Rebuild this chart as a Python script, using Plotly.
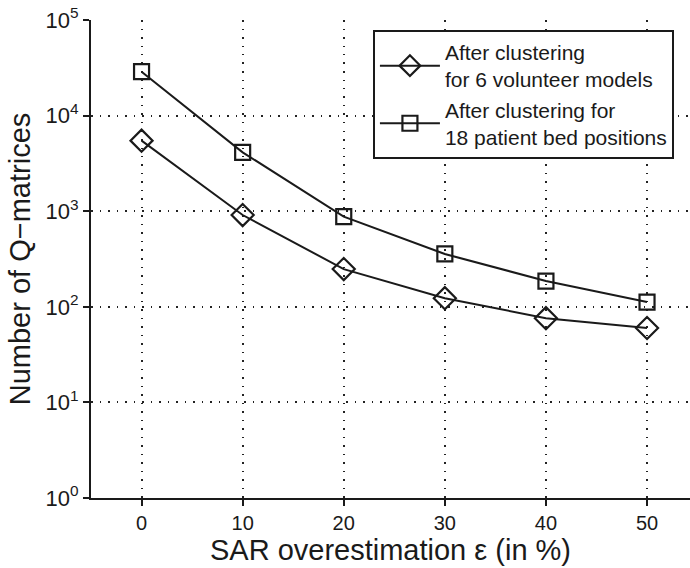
import plotly.graph_objects as go

eps = [0, 10, 20, 30, 40, 50]
volunteer = [5470, 912, 248, 123, 76, 60]
patient = [28800, 4130, 877, 357, 186, 112]
x_ticks = [0, 10, 20, 30, 40, 50]
y_tickvals = [1, 10, 100, 1000, 10000, 100000]
y_ticktext = ["10<sup>0</sup>", "10<sup>1</sup>", "10<sup>2</sup>", "10<sup>3</sup>", "10<sup>4</sup>", "10<sup>5</sup>"]

font = "Liberation Sans, Arial, sans-serif"
ink = "#1a1a1a"

fig = go.Figure()
fig.add_trace(go.Scatter(
    x=eps, y=volunteer, mode="lines+markers",
    name="After clustering<br>for 6 volunteer models",
    line=dict(color=ink, width=2),
    marker=dict(symbol="diamond-open", size=17, color=ink, line=dict(width=2.2)),
))
fig.add_trace(go.Scatter(
    x=eps, y=patient, mode="lines+markers",
    name="After clustering for<br>18 patient bed positions",
    line=dict(color=ink, width=2),
    marker=dict(symbol="square-open", size=15, color=ink, line=dict(width=2.2)),
))

fig.update_layout(
    width=690, height=568,
    margin=dict(l=91, r=0, t=20, b=70),
    paper_bgcolor="white", plot_bgcolor="white",
    font=dict(family=font, color=ink, size=20),
    showlegend=True,
    legend=dict(
        x=0.471, y=0.979, xanchor="left", yanchor="top",
        bordercolor=ink, borderwidth=1.8, bgcolor="white",
        font=dict(size=21, family=font), tracegroupgap=0, itemwidth=60,
    ),
)
fig.update_xaxes(
    range=[-5, 54.25], tickvals=x_ticks, ticks="outside", ticklen=6, tickwidth=1.5,
    tickcolor=ink, showline=True, linecolor=ink, linewidth=2,
    showgrid=True, gridcolor="#222222", griddash="1.5px,7px", gridwidth=1.5,
    zeroline=False, tickfont=dict(size=20),
    title=dict(text="SAR overestimation ε (in %)", font=dict(size=29), standoff=4),
)
fig.update_yaxes(
    type="log", range=[0, 5], tickvals=y_tickvals, ticktext=y_ticktext,
    ticks="outside", ticklen=6, tickwidth=1.5, tickcolor=ink,
    showline=True, linecolor=ink, linewidth=2,
    showgrid=True, gridcolor="#222222", griddash="1.5px,7px", gridwidth=1.5,
    zeroline=False, tickfont=dict(size=22),
    title=dict(text="Number of Q−matrices", font=dict(size=29), standoff=6),
)

fig.write_html("out.html")
